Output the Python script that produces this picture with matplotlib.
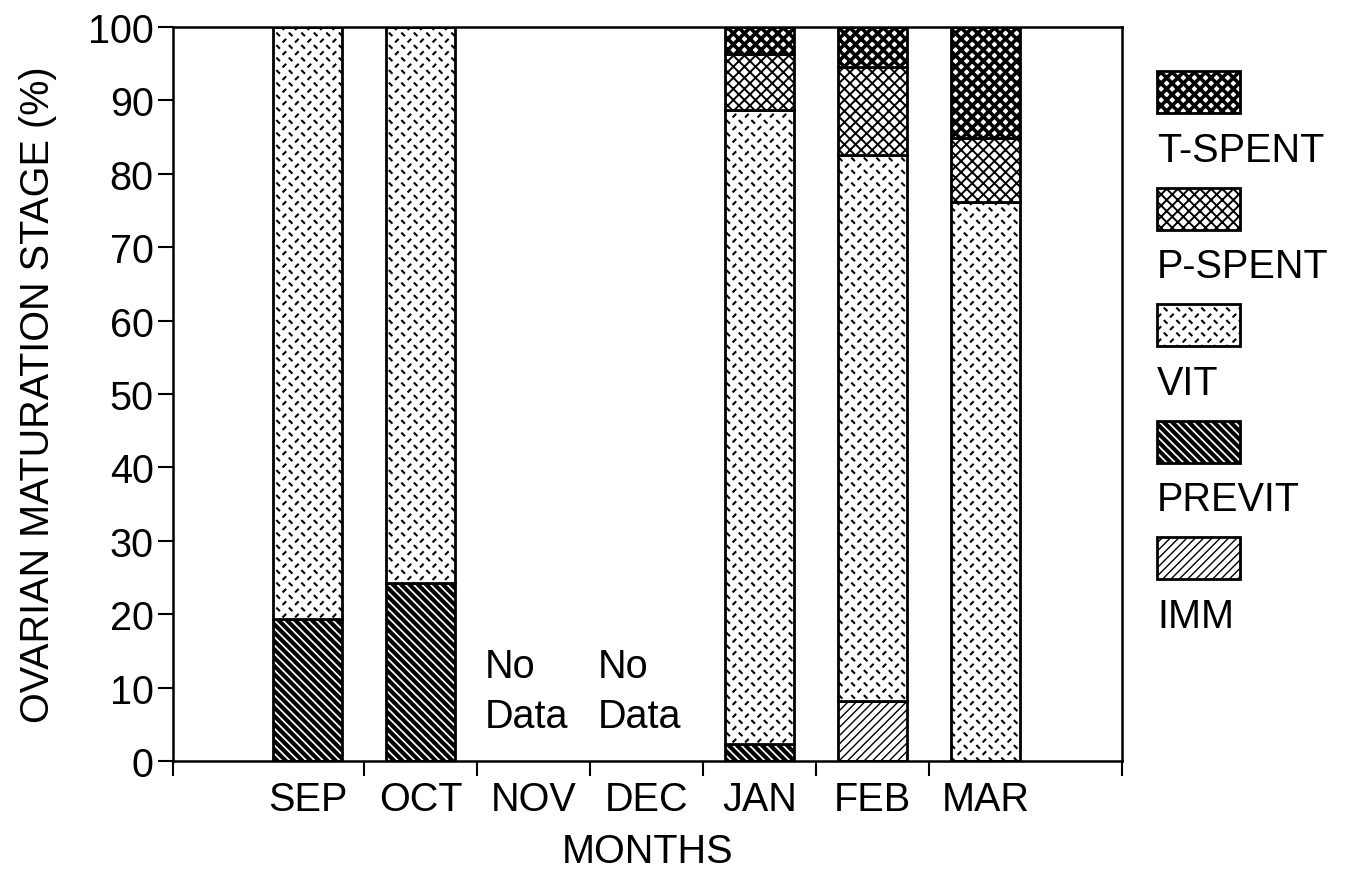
import numpy as np
import matplotlib
matplotlib.use("Agg")
import matplotlib.pyplot as plt
import matplotlib.hatch as mhatch
from matplotlib.path import Path
from matplotlib.patches import Rectangle

# ---------------- data ----------------
months = ['SEP', 'OCT', 'NOV', 'DEC', 'JAN', 'FEB', 'MAR']
imm = [0.0, 0.0, 0.0, 0.0, 0.0, 8.2, 0.0]
previt = [19.4, 24.3, 0.0, 0.0, 2.3, 0.0, 0.0]
vit = [80.6, 75.7, 0.0, 0.0, 86.4, 74.4, 76.2]
p_spent = [0.0, 0.0, 0.0, 0.0, 7.6, 12.0, 8.7]
t_spent = [0.0, 0.0, 0.0, 0.0, 3.7, 5.4, 15.1]
no_data_months = ['NOV', 'DEC']
stage_names = ['IMM', 'PREVIT', 'VIT', 'P-SPENT', 'T-SPENT']


# ---------------- custom "dashed plate" hatch for VIT (uses '*') ----------------
class DashPlate(mhatch.HatchPatternBase):
    def __init__(self, hatch, density):
        k = hatch.count('*')
        self.n = 16 * k
        self.cells = [(i, j) for i in range(self.n) for j in range(self.n)
                      if (i + j) % 2 == 0] if self.n else []
        self.num_vertices = 2 * len(self.cells)

    def set_vertices_and_codes(self, vertices, codes):
        n = self.n
        d = 0.17 / n
        for k, (i, j) in enumerate(self.cells):
            cx = (i + 0.5) / n
            cy = (j + 0.5) / n
            if j % 2 == 0:
                p0, p1 = (cx - d, cy + d), (cx + d, cy - d)
            else:
                p0, p1 = (cx - d, cy - d), (cx + d, cy + d)
            vertices[2 * k] = p0
            vertices[2 * k + 1] = p1
            codes[2 * k] = Path.MOVETO
            codes[2 * k + 1] = Path.LINETO


mhatch._hatch_types = [t for t in mhatch._hatch_types if t is not mhatch.Stars] + [DashPlate]

styles = {
    'IMM': dict(hatch='////', lw=1.0),
    'PREVIT': dict(hatch='\\\\\\\\', lw=3.0),
    'VIT': dict(hatch='*', lw=1.5),
    'P-SPENT': dict(hatch='xxx', lw=1.4),
    'T-SPENT': dict(hatch='xxx', lw=2.6),
}

plt.rcParams['font.family'] = ['Liberation Sans', 'DejaVu Sans']
FS = 28.5

fig = plt.figure(figsize=(13.5, 8.7), dpi=100)
ax = fig.add_axes([173 / 1350, 1 - 762 / 870, (1122 - 173) / 1350, (762 - 28) / 870])

x = np.arange(len(months))
series = [imm, previt, vit, p_spent, t_spent]
bottom = np.zeros(len(months))
width = 0.61
for name, vals in zip(stage_names, series):
    vals = np.asarray(vals, dtype=float)
    mask = vals > 0
    st = styles[name]
    with plt.rc_context({'hatch.linewidth': st['lw']}):
        bars = ax.bar(x[mask], vals[mask], width=width, bottom=bottom[mask],
                      facecolor='white', edgecolor='black', linewidth=2.0,
                      hatch=st['hatch'], zorder=2)
    for b in bars:
        if hasattr(b, 'set_hatch_linewidth'):
            b.set_hatch_linewidth(st['lw'])
    bottom = bottom + vals

x0, x1 = -1.19, 7.21
ax.set_xlim(x0, x1)
ax.set_ylim(0, 100)
ax.set_yticks(np.arange(0, 101, 10))
ax.tick_params(axis='y', direction='out', length=11, width=1.5, labelsize=FS, pad=3)

major = [x0] + list(np.arange(0.5, len(months) - 1, 1.0)) + [x1]
ax.set_xticks(major)
ax.set_xticklabels([''] * len(major))
ax.set_xticks(x, minor=True)
ax.set_xticklabels(months, minor=True)
ax.tick_params(axis='x', which='major', direction='out', length=11, width=1.5)
ax.tick_params(axis='x', which='minor', length=0, labelsize=FS, pad=14)
for s in ax.spines.values():
    s.set_linewidth(1.8)

ax.set_xlabel('MONTHS', fontsize=FS, labelpad=10)
ax.set_ylabel('OVARIAN MATURATION STAGE (%)', fontsize=FS, labelpad=22)

for m in no_data_months:
    ax.text(months.index(m) - 0.06, 9.5, 'No\nData', ha='center', va='center',
            multialignment='left', fontsize=FS, linespacing=1.4)

# ---------------- legend (labels below swatches) ----------------
lax = fig.add_axes([0, 0, 1, 1])
lax.set_xlim(0, 1350)
lax.set_ylim(870, 0)
lax.axis('off')
top0, step, pw, ph, lx = 72, 116.5, 83, 42, 1157
for k, name in enumerate(reversed(stage_names)):
    st = styles[name]
    yt = top0 + k * step
    with plt.rc_context({'hatch.linewidth': st['lw']}):
        r = Rectangle((lx, yt), pw, ph, facecolor='white', edgecolor='black',
                      linewidth=2.0, hatch=st['hatch'])
    if hasattr(r, 'set_hatch_linewidth'):
        r.set_hatch_linewidth(st['lw'])
    lax.add_patch(r)
    lax.text(lx, yt + ph + 37, name, ha='left', va='center', fontsize=FS)

fig.savefig('out.png', dpi=100)
